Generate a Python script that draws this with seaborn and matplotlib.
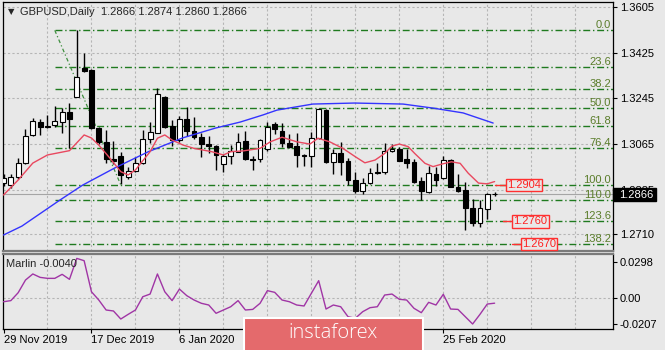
import numpy as np
import matplotlib
matplotlib.use("Agg")
import matplotlib.pyplot as plt
import seaborn as sns
from matplotlib.patches import Rectangle

# ---------------- data ----------------
title_text = "GBPUSD,Daily  1.2866 1.2874 1.2860 1.2866"
opens = [1.2912,1.2905,1.2936,1.2992,1.3101,1.3153,1.3136,1.3139,1.3153,1.3190,
         1.3252,1.3365,1.3357,1.3127,1.3074,1.3006,1.3018,1.2936,1.2960,1.2989,
         1.3084,1.3110,1.3252,1.3136,1.3081,1.3163,1.3118,1.3091,1.3065,1.3057,
         1.2986,1.3017,1.3034,1.3077,1.3007,1.3005,1.3044,1.3143,1.3118,1.3070,
         1.3057,1.3022,1.3018,1.3088,1.3200,1.2995,1.3028,1.2999,1.2925,1.2881,
         1.2910,1.2956,1.2956,1.3039,1.3044,1.3005,1.2995,1.2919,1.2877,1.2947,
         1.2930,1.3002,1.2897,1.2884,1.2811,1.2752,1.2807,1.2866]
highs = [1.2945,1.2947,1.3011,1.3123,1.3167,1.3165,1.3180,1.3215,1.3206,1.3226,
         1.3515,1.3423,1.3361,1.3134,1.3121,1.3078,1.3034,1.2976,1.3015,1.3121,
         1.3153,1.3285,1.3255,1.3160,1.3176,1.3213,1.3171,1.3110,1.3097,1.3061,
         1.3025,1.3061,1.3107,1.3118,1.3018,1.3084,1.3151,1.3153,1.3149,1.3105,
         1.3108,1.3026,1.3111,1.3206,1.3202,1.3044,1.3074,1.3010,1.2955,1.2930,
         1.2969,1.2992,1.3070,1.3065,1.3055,1.3044,1.3005,1.2936,1.2978,1.2976,
         1.3018,1.3005,1.2947,1.2916,1.2847,1.2844,1.2873,1.2874]
lows = [1.2898,1.2893,1.2926,1.2986,1.3097,1.3101,1.3128,1.3131,1.3108,1.3048,
        1.3250,1.3349,1.3125,1.3064,1.2989,1.2986,1.2907,1.2926,1.2956,1.2986,
        1.3070,1.3108,1.3127,1.3057,1.3074,1.3097,1.3084,1.3013,1.3028,1.2963,
        1.2953,1.2986,1.3033,1.3003,1.2963,1.2995,1.3039,1.3105,1.3055,1.3048,
        1.2976,1.2979,1.2973,1.3084,1.2989,1.2946,1.2943,1.2903,1.2873,1.2868,
        1.2907,1.2947,1.2947,1.3035,1.2998,1.2969,1.2910,1.2846,1.2873,1.2899,
        1.2926,1.2894,1.2877,1.2726,1.2741,1.2739,1.2768,1.2860]
closes = [1.2930,1.2936,1.2992,1.3098,1.3156,1.3134,1.3131,1.3155,1.3190,1.3164,
          1.3331,1.3353,1.3130,1.3074,1.3005,1.2999,1.2943,1.2959,1.2989,1.3084,
          1.3113,1.3262,1.3134,1.3081,1.3163,1.3118,1.3094,1.3065,1.3057,1.3022,
          1.3017,1.3038,1.3075,1.3005,1.3002,1.3081,1.3134,1.3123,1.3070,1.3055,
          1.3022,1.3018,1.3088,1.3202,1.2995,1.3028,1.2995,1.2923,1.2881,1.2910,
          1.2952,1.2950,1.3039,1.3047,1.2999,1.2992,1.2916,1.2881,1.2950,1.2923,
          1.3002,1.2897,1.2881,1.2811,1.2752,1.2811,1.2867,1.2866]

red_idx = [0,2,4,6,9,11,12,13,14.5,16,17,18,20,21,22,23,24.5,26,28.4,30,31,32.7,35,36.4,38,
           40,41.8,42.9,44.5,46.3,48,49.3,50.7,52,53,54,55.2,56.1,57.5,58.6,59.8,61.1,62.3,
           63.4,64.8,66,67]
red_val = [1.2864,1.2923,1.2990,1.3022,1.3039,1.3101,1.3089,1.3061,1.3010,1.2956,
           1.2943,1.2963,1.3035,1.3088,1.3101,1.3081,1.3061,1.3048,1.3035,1.3022,
           1.3035,1.3038,1.3048,1.3074,1.3092,1.3074,1.3065,1.3088,1.3074,1.3048,
           1.3015,1.2991,1.3002,1.3028,1.3057,1.3065,1.3055,1.3028,1.2989,1.2976,
           1.2986,1.2995,1.2989,1.2950,1.2911,1.2908,1.2917]
blue_idx = [0,2.5,7.7,10.8,15.2,19.7,24.4,28.9,32.3,35.4,37.3,42.2,47.9,54.5,58.6,62.7,66.8]
blue_val = [1.2706,1.2741,1.2844,1.2903,1.2971,1.3034,1.3089,1.3128,1.3152,1.3180,
            1.3199,1.3223,1.3227,1.3223,1.3207,1.3188,1.3148]

marlin = [-0.0028,-0.0019,0.0046,0.0150,0.0200,0.0172,0.0164,0.0164,0.0197,0.0156,
          0.0328,0.0309,0.0054,-0.0014,-0.0096,-0.0104,-0.0170,-0.0132,-0.0096,0.0013,
          0.0035,0.0200,0.0054,-0.0019,0.0076,0.0022,-0.0014,-0.0041,-0.0055,-0.0123,
          -0.0096,-0.0069,-0.0019,-0.0096,-0.0091,-0.0041,0.0063,0.0049,-0.0014,-0.0028,
          -0.0055,-0.0063,0.0041,0.0145,-0.0088,-0.0055,-0.0069,-0.0151,-0.0164,-0.0110,
          -0.0077,-0.0069,0.0027,0.0035,-0.0008,-0.0014,-0.0082,-0.0118,-0.0033,-0.0055,
          0.0033,-0.0088,-0.0091,-0.0151,-0.0211,-0.0132,-0.0047,-0.0040]

fib_levels = ["0.0","23.6","38.2","50.0","61.8","76.4","100.0","110.0","123.6","138.2"]
fib_prices = [1.3514,1.3370,1.3281,1.3209,1.3137,1.3048,1.2904,1.2843,1.2760,1.2671]
fib_start_bar = 7
fib_end_bar = 16

price_ticks = [1.3605,1.3425,1.3245,1.3065,1.2885,1.2710]
price_tick_labels = ["1.3605","1.3425","1.3245","1.3065","1.2885","1.2710"]
osc_ticks = [0.0298,0.0,-0.0207]
osc_tick_labels = ["0.0298","0.00","-0.0207"]
date_pos = [0,12,24,60]
date_labels = ["29 Nov 2019","17 Dec 2019","6 Jan 2020","25 Feb 2020"]
last_price = 1.2866
target_labels = ["1.2904","1.2760","1.2670"]
target_prices = [1.2904,1.2760,1.2670]

# ---------------- style ----------------
sns.set_style("white")
plt.rcParams['font.family'] = ['Liberation Sans', 'DejaVu Sans']
BG = '#e8e8e8'
W, H = 665, 350
fig = plt.figure(figsize=(W/100, H/100), dpi=100, facecolor=BG)

def fx(px): return px / W
def fy(py): return 1 - py / H

X0, DX = 3.5, 7.33
def bar_of(px): return (px - X0) / DX
def price_of(py): return 1.36338 - 0.0003948 * py

ax = fig.add_axes([fx(3), fy(251), fx(613) - fx(3), fy(2) - fy(251)], facecolor=BG)
ax2 = fig.add_axes([fx(3), fy(329), fx(613) - fx(3), fy(254) - fy(329)], facecolor=BG)
xlim = (bar_of(3), bar_of(613))

grid_kw = dict(color='#b5b5b5', lw=0.8, ls=(0, (2, 2)), zorder=0)
for g in range(6, 84, 6):
    ax.axvline(g, **grid_kw)
    ax2.axvline(g, **grid_kw)
for t in price_ticks:
    ax.axhline(t, **grid_kw)
ax2.axhline(0, **grid_kw)

# bid line
ax.axhline(last_price, color='#a5a5a5', lw=0.8, zorder=1)

# fibonacci
ax.hlines(fib_prices, fib_start_bar, xlim[1], colors='#1f7a1f', lw=1,
          linestyles=[(0, (5, 2, 1, 2))], zorder=2)
ax.plot([fib_start_bar, fib_end_bar], [fib_prices[0], fib_prices[6]],
        color='#3f8f3f', lw=0.9, ls=(0, (3, 2, 1, 2)), zorder=2)
for lab, p in zip(fib_levels, fib_prices):
    ax.annotate(lab, xy=(1, p), xycoords=('axes fraction', 'data'),
                xytext=(-1.5, 0), textcoords='offset points', ha='right', va='bottom',
                color='#5a7d2a', fontsize=8, zorder=6)

# candles
idx = np.arange(len(opens))
o = np.array(opens); c = np.array(closes)
ax.vlines(idx, lows, highs, color='black', lw=1, zorder=3)
bottom = np.minimum(o, c)
height = np.maximum(np.abs(c - o), 0.00004)
cols = ['white' if cc >= oo else 'black' for oo, cc in zip(o, c)]
ax.bar(idx, height, bottom=bottom, width=0.66, color=cols, edgecolor='black',
       linewidth=0.8, zorder=4)

# moving averages
sns.lineplot(x=blue_idx, y=blue_val, ax=ax, color='#3434ff', lw=1, estimator=None,
             sort=False, legend=False, zorder=5)
sns.lineplot(x=red_idx, y=red_val, ax=ax, color='#e8485f', lw=1, estimator=None,
             sort=False, legend=False, zorder=5)

# target labels
box_px = [(495, 506, 542), (503, 512, 549), (512, 521, 557)]
for lab, p, (a, b, e) in zip(target_labels, target_prices, box_px):
    ax.plot([bar_of(a), bar_of(b)], [p, p], color='#ff3030', lw=1, zorder=5)
    ax.text(bar_of((b + e) / 2), p, lab, ha='center', va='center', color='#ff2020',
            fontsize=8, zorder=7,
            bbox=dict(boxstyle='square,pad=0.12', fc=BG, ec='#ff3030', lw=1))

ax.set_xlim(*xlim)
ax.set_ylim(price_of(251), price_of(2))
ax.yaxis.tick_right()
ax.set_yticks(price_ticks)
ax.set_yticklabels(price_tick_labels)
ax.set_xticks([])
ax.tick_params(axis='y', direction='out', length=3, width=0.8, pad=2, labelsize=8,
               colors='black', right=True, left=False)
for s in ['left', 'top', 'right']:
    ax.spines[s].set_color('black'); ax.spines[s].set_linewidth(0.9)
ax.spines['bottom'].set_color('#7a7a7a'); ax.spines['bottom'].set_linewidth(1.6)

# oscillator
sns.lineplot(x=idx, y=marlin, ax=ax2, color='#a035a5', lw=1, estimator=None,
             legend=False, zorder=4)
ax2.set_xlim(*xlim)
ax2.set_ylim(-0.0252, 0.0364)
ax2.yaxis.tick_right()
ax2.set_yticks(osc_ticks)
ax2.set_yticklabels(osc_tick_labels)
ax2.set_xticks(date_pos)
ax2.set_xticklabels(date_labels)
for t in ax2.get_xticklabels():
    t.set_ha('left')
ax2.tick_params(axis='y', direction='out', length=3, width=0.8, pad=2, labelsize=8,
                colors='black', right=True, left=False)
ax2.tick_params(axis='x', direction='out', length=3, width=0.8, pad=1.5, labelsize=8,
                colors='black', bottom=True)
for s in ['left', 'bottom', 'right']:
    ax2.spines[s].set_color('black'); ax2.spines[s].set_linewidth(0.9)
ax2.spines['top'].set_color('#7a7a7a'); ax2.spines['top'].set_linewidth(1.6)
ax2.set_xlabel(''); ax2.set_ylabel(''); ax.set_xlabel(''); ax.set_ylabel('')

# texts
fig.text(fx(8), fy(12), '\u25bc', fontsize=6, va='center', ha='left',
         family=['DejaVu Sans'])
fig.text(fx(20), fy(12), title_text, fontsize=8, va='center', ha='left')
fig.text(fx(6), fy(264), 'Marlin -0.0040', fontsize=8, va='center', ha='left', zorder=5)

# current price tag
fig.add_artist(Rectangle((fx(613), fy(201)), 43 / W, 13 / H, transform=fig.transFigure,
                         fc='black', ec='black', zorder=5))
fig.text(fx(619), fy(194.5), '1.2866', color='white', fontsize=8, va='center',
         ha='left', zorder=6)

# logo
fig.add_artist(Rectangle((fx(243.5), fy(352)), (422.5 - 243.5) / W, 34 / H,
                         transform=fig.transFigure, fc='#e46a6c', ec='white', lw=1.5,
                         zorder=10))
fig.text(fx(333), fy(333), 'instaforex', color='white', fontsize=14.5, va='center',
         ha='center', zorder=11, family=['Open Sans', 'DejaVu Sans'], fontweight='light')

fig.savefig('out.png', dpi=100, facecolor=BG)
